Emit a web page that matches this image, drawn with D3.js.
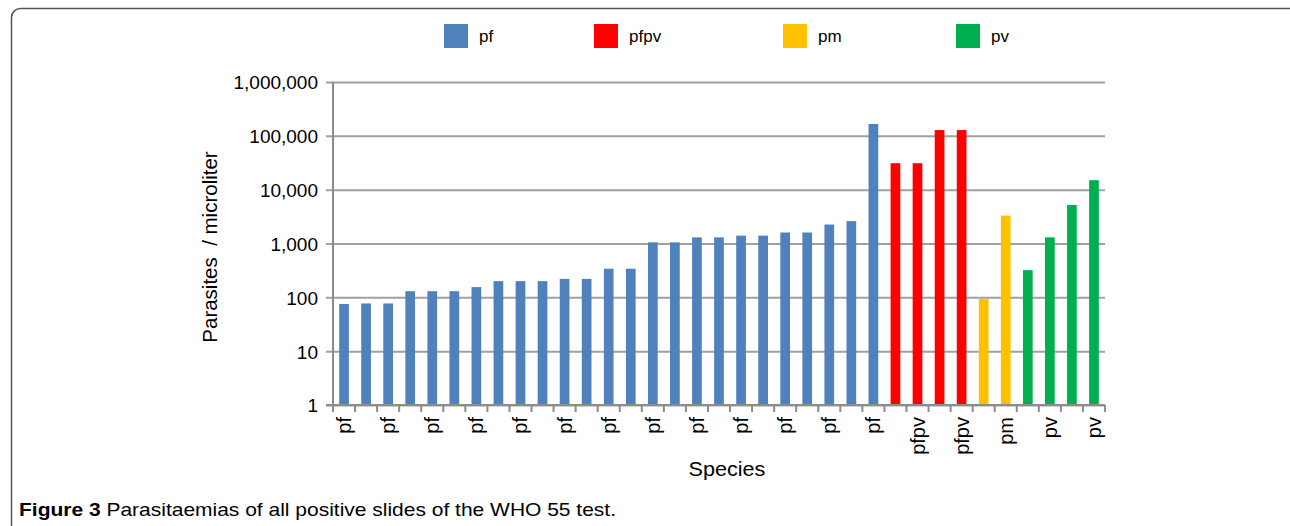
<!DOCTYPE html>
<html lang="en">
	<head>
		<meta charset="utf-8">
		<title>Parasitaemias</title>
		<script type="text/javascript" src="https://cdn.jsdelivr.net/npm/d3@7"></script>
		<style>
			body { margin: 0; background: #fff; }
			text { font-family: "Liberation Sans", Arial, Helvetica, sans-serif; fill: #000; }
		</style>
	</head>
	<body>
		<script type="text/javascript">

			var w = 1290;
			var h = 526;

			var species = ["pf", "pf", "pf", "pf", "pf", "pf", "pf", "pf", "pf", "pf",
			               "pf", "pf", "pf", "pf", "pf", "pf", "pf", "pf", "pf", "pf",
			               "pf", "pf", "pf", "pf", "pf",
			               "pfpv", "pfpv", "pfpv", "pfpv",
			               "pm", "pm",
			               "pv", "pv", "pv", "pv"];

			var parasites = [75, 77, 77, 130, 130, 130, 155, 200, 200, 200,
			                 220, 220, 340, 340, 1050, 1050, 1300, 1300, 1400, 1400,
			                 1600, 1600, 2250, 2600, 166000,
			                 31000, 31000, 128000, 128000,
			                 93, 3300,
			                 320, 1300, 5200, 15000];

			var legendNames = ["pf", "pfpv", "pm", "pv"];
			var legendColors = ["#4F81BD", "#FF0000", "#FFC000", "#00B050"];
			var legendX = [444, 594, 783, 956];

			var yTicks = [1, 10, 100, 1000, 10000, 100000, 1000000];

			var plotLeft = 333, plotRight = 1105, plotTop = 82, plotBottom = 405;

			var color = d3.scaleOrdinal().domain(legendNames).range(legendColors);

			var xOuter = d3.scaleBand()
			               .domain(d3.range(species.length))
			               .range([plotLeft, plotRight]);

			var xScale = d3.scaleBand()
			               .domain(d3.range(species.length))
			               .range([plotLeft, plotRight])
			               .paddingInner(0.56)
			               .paddingOuter(0.28);

			var yScale = d3.scaleLog()
			               .domain([1, 1000000])
			               .range([plotBottom, plotTop]);

			var svg = d3.select("body")
			            .append("svg")
			            .attr("width", w)
			            .attr("height", h);

			// frame round the figure
			svg.append("rect")
			   .attr("x", 11.5)
			   .attr("y", 8.5)
			   .attr("width", 1290)
			   .attr("height", 530)
			   .attr("rx", 9)
			   .attr("fill", "none")
			   .attr("stroke", "#555")
			   .attr("stroke-width", 1.5);

			// gridlines + y labels
			var yAxis = d3.axisLeft(yScale)
			              .tickValues(yTicks)
			              .tickFormat(d3.format(","))
			              .tickSize(-(plotRight - plotLeft))
			              .tickPadding(0);

			var gy = svg.append("g")
			            .attr("transform", "translate(" + plotLeft + ",0)")
			            .call(yAxis);
			gy.select(".domain").remove();
			gy.selectAll(".tick line")
			  .attr("x1", -7)
			  .attr("stroke", "#a0a0a0")
			  .attr("stroke-width", 2);
			gy.selectAll(".tick text")
			  .attr("x", -15)
			  .attr("dy", "0.36em")
			  .attr("text-anchor", "end")
			  .attr("font-size", "19px")
			  .attr("font-family", null)
			  .attr("fill", "#000");

			// bars
			svg.selectAll("rect.bar")
			   .data(parasites)
			   .enter()
			   .append("rect")
			   .attr("class", "bar")
			   .attr("x", function(d, i) { return xScale(i); })
			   .attr("y", function(d) { return yScale(d); })
			   .attr("width", xScale.bandwidth())
			   .attr("height", function(d) { return plotBottom - yScale(d); })
			   .attr("fill", function(d, i) { return color(species[i]); });

			// axis lines
			svg.append("line")
			   .attr("x1", plotLeft).attr("x2", plotLeft)
			   .attr("y1", plotTop).attr("y2", plotBottom + 7)
			   .attr("stroke", "#8c8c8c").attr("stroke-width", 2);
			svg.append("line")
			   .attr("x1", plotLeft - 7).attr("x2", plotRight)
			   .attr("y1", plotBottom).attr("y2", plotBottom)
			   .attr("stroke", "#8c8c8c").attr("stroke-width", 2);

			// category tick marks at the boundaries
			var bounds = d3.range(species.length + 1).map(function(i) {
				return i < species.length ? xOuter(i) : xOuter(i - 1) + xOuter.bandwidth();
			});
			svg.selectAll("line.xtick")
			   .data(bounds)
			   .enter()
			   .append("line")
			   .attr("class", "xtick")
			   .attr("x1", function(d) { return d; })
			   .attr("x2", function(d) { return d; })
			   .attr("y1", plotBottom)
			   .attr("y2", plotBottom + 7)
			   .attr("stroke", "#8c8c8c")
			   .attr("stroke-width", 2);

			// x labels, every second category
			var labelIdx = d3.range(0, species.length, 2);
			svg.selectAll("text.xlab")
			   .data(labelIdx)
			   .enter()
			   .append("text")
			   .attr("class", "xlab")
			   .attr("text-anchor", "end")
			   .attr("font-size", "20px")
			   .attr("transform", function(i) {
				   var cx = xScale(i) + xScale.bandwidth() / 2;
				   return "translate(" + (cx + 7) + "," + (plotBottom + 12) + ") rotate(-90)";
			   })
			   .text(function(i) { return species[i]; });

			// axis titles
			svg.append("text")
			   .attr("text-anchor", "middle")
			   .attr("font-size", "20px")
			   .attr("transform", "translate(727,476) scale(1.08,1)")
			   .text("Species");

			svg.append("text")
			   .attr("text-anchor", "middle")
			   .attr("font-size", "20.5px")
			   .attr("transform", "translate(217,247) rotate(-90)")
			   .style("white-space", "pre")
			   .text("Parasites  / microliter");

			// legend
			var lg = svg.selectAll("g.legend")
			            .data(legendNames)
			            .enter()
			            .append("g")
			            .attr("class", "legend")
			            .attr("transform", function(d, i) { return "translate(" + legendX[i] + ",24)"; });
			lg.append("rect")
			  .attr("width", 24)
			  .attr("height", 24)
			  .attr("fill", function(d) { return color(d); });
			lg.append("text")
			  .attr("x", 35)
			  .attr("y", 18)
			  .attr("font-size", "17px")
			  .text(function(d) { return d; });

			// caption
			var cap = svg.append("text")
			             .attr("x", 19)
			             .attr("y", 516)
			             .attr("font-size", "18.5px")
			             .attr("fill", "#231f20")
			             .attr("textLength", 597)
			             .attr("lengthAdjust", "spacingAndGlyphs");
			cap.append("tspan").attr("font-weight", "bold").text("Figure 3");
			cap.append("tspan").text(" Parasitaemias of all positive slides of the WHO 55 test.");
		</script>
	</body>
</html>
